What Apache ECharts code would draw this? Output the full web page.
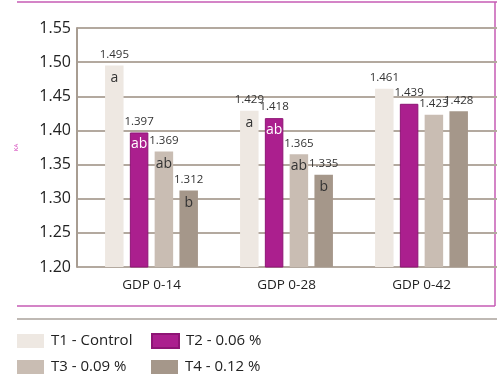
<!DOCTYPE html>
<html>
<head>
<meta charset="utf-8">
<script src="https://cdn.jsdelivr.net/npm/echarts@6/dist/echarts.min.js"></script>
<style>
  html, body { margin: 0; padding: 0; background: #fff; }
  #chart { width: 500px; height: 377px; }
</style>
</head>
<body>
<div id="chart"></div>
<script>
// data
var categories = ['GDP 0-14', 'GDP 0-28', 'GDP 0-42']
var seriesNames = ['T1 - Control', 'T2 - 0.06 %', 'T3 - 0.09 %', 'T4 - 0.12 %']
var t1 = [1.495, 1.429, 1.461]
var t2 = [1.397, 1.418, 1.439]
var t3 = [1.369, 1.365, 1.423]
var t4 = [1.312, 1.335, 1.428]
// significance letters
var t1Letters = ['a', 'a', '']
var t2Letters = ['ab', 'ab', '']
var t3Letters = ['ab', 'ab', '']
var t4Letters = ['b', 'b', '']
var yTicks = ['1.20', '1.25', '1.30', '1.35', '1.40', '1.45', '1.50', '1.55']

var font = 'Open Sans'
var colors = ['#eee8e2', '#ab1f8e', '#c9bdb3', '#a5978a']
var letterColors = ['#333', '#fff', '#333', '#333']

var chart = echarts.init(document.getElementById('chart'))

function makeBar(i, values, letters) {
  return {
    name: seriesNames[i],
    type: 'bar',
    xAxisIndex: 1,
    yAxisIndex: 1,
    barWidth: 18.5,
    barGap: '34%',
    itemStyle: {
      color: colors[i],
      borderColor: i === 1 ? '#8e1575' : null,
      borderWidth: i === 1 ? 1 : 0
    },
    label: {
      show: true,
      position: 'insideTop',
      distance: 0,
      offset: [0, -20],
      formatter: function (p) {
        var s = '{v|' + p.value.toFixed(3) + '}'
        if (letters[p.dataIndex]) s += '\n{l|' + letters[p.dataIndex] + '}'
        return s
      },
      rich: {
        v: { fontFamily: font, fontSize: 11.5, color: '#333', lineHeight: 18 },
        l: { fontFamily: font, fontSize: 14, color: letterColors[i], lineHeight: 28 }
      }
    },
    data: values
  }
}

// one legend per swatch, laid out as a 2x2 block
function makeLegend(i, left, top) {
  return {
    left: left,
    top: top,
    itemWidth: 27,
    itemHeight: 14,
    icon: 'rect',
    data: [seriesNames[i]],
    textStyle: { fontFamily: font, fontSize: 15, lineHeight: 16, color: '#222', padding: [0, 0, 0, 2] }
  }
}

chart.setOption({
  animation: false,
  color: colors,
  grid: [
    { left: 77, right: 3, top: 28, bottom: 110 },
    { left: 84, right: 11, top: 28, bottom: 110 }
  ],
  xAxis: [
    { type: 'category', gridIndex: 0, data: categories, show: false },
    {
      type: 'category',
      gridIndex: 1,
      data: categories,
      axisLine: { show: false },
      axisTick: { show: false },
      axisLabel: { fontFamily: font, fontSize: 13.5, color: '#222', margin: 11 }
    }
  ],
  yAxis: [
    {
      type: 'value',
      gridIndex: 0,
      min: 1.2,
      max: 1.55,
      interval: 0.05,
      name: 'KA',
      nameLocation: 'middle',
      nameRotate: 90,
      nameGap: 58,
      nameTextStyle: { fontFamily: font, fontSize: 6, color: '#d23cb8' },
      axisLine: { show: true, lineStyle: { color: '#a89d92', width: 2 } },
      axisTick: { show: false },
      axisLabel: {
        fontFamily: font,
        fontSize: 16,
        color: '#222',
        margin: 6,
        formatter: function (v) {
          return yTicks[Math.round((v - 1.2) / 0.05)]
        }
      },
      splitLine: { lineStyle: { color: '#b3a99f', width: 2 } }
    },
    { type: 'value', gridIndex: 1, min: 1.2, max: 1.55, show: false }
  ],
  legend: [
    makeLegend(0, 12, 328),
    makeLegend(1, 146, 328),
    makeLegend(2, 12, 354),
    makeLegend(3, 146, 354)
  ],
  graphic: [
    { type: 'line', shape: { x1: 17, y1: 2, x2: 497, y2: 2 }, style: { stroke: '#c65bb4', lineWidth: 1.5 } },
    { type: 'line', shape: { x1: 495, y1: 2, x2: 495, y2: 306 }, style: { stroke: '#c65bb4', lineWidth: 1.5 } },
    { type: 'line', shape: { x1: 17, y1: 306, x2: 495, y2: 306 }, style: { stroke: '#c65bb4', lineWidth: 1.5 } },
    { type: 'line', shape: { x1: 17, y1: 319, x2: 497, y2: 319 }, style: { stroke: '#aaa29b', lineWidth: 1.5 } }
  ],
  series: [
    makeBar(0, t1, t1Letters),
    makeBar(1, t2, t2Letters),
    makeBar(2, t3, t3Letters),
    makeBar(3, t4, t4Letters)
  ]
})
</script>
</body>
</html>
